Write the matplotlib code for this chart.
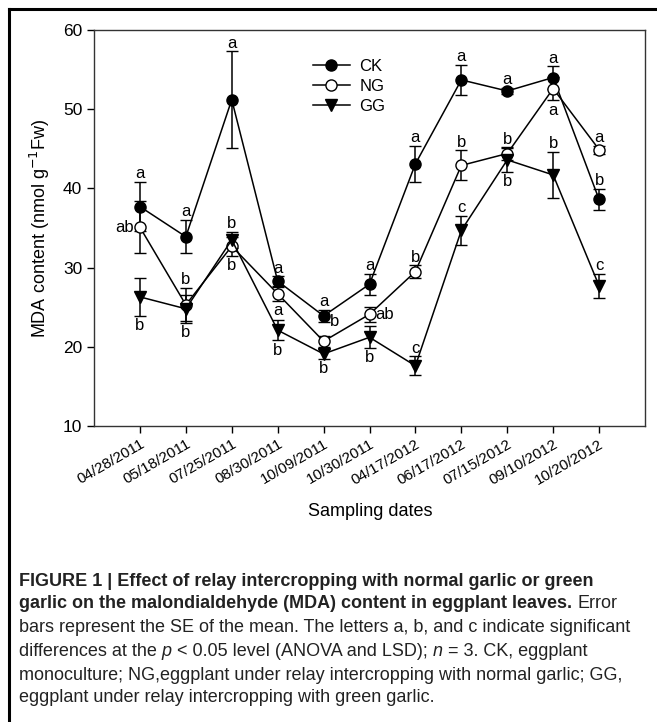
import matplotlib
matplotlib.use("Agg")
import matplotlib.pyplot as plt
from matplotlib.lines import Line2D

plt.rcParams["font.family"] = ["Liberation Sans", "DejaVu Sans"]

dates = ["04/28/2011", "05/18/2011", "07/25/2011", "08/30/2011", "10/09/2011",
         "10/30/2011", "04/17/2012", "06/17/2012", "07/15/2012", "09/10/2012",
         "10/20/2012"]

ck = [37.7, 33.9, 51.2, 28.3, 23.9, 27.9, 43.1, 53.7, 52.3, 54.0, 38.6]
ck_se = [3.1, 2.1, 6.1, 0.6, 0.8, 1.3, 2.3, 1.9, 0.4, 1.4, 1.3]
ck_sig = ["a", "a", "a", "a", "a", "a", "a", "a", "a", "a", "b"]

ng = [35.1, 25.3, 32.7, 26.7, 20.7, 24.1, 29.5, 42.9, 44.4, 52.6, 44.9]
ng_se = [3.3, 2.1, 1.2, 0.9, 0.7, 0.95, 0.8, 1.9, 0.8, 1.5, 0.5]
ng_sig = ["ab", "b", "b", "a", "b", "ab", "b", "b", "b", "a", "a"]

gg = [26.3, 24.8, 33.5, 22.1, 19.1, 21.2, 17.6, 34.7, 43.6, 41.7, 27.7]
gg_se = [2.4, 1.8, 1.0, 1.3, 0.6, 1.4, 1.2, 1.85, 1.5, 2.9, 1.55]
gg_sig = ["b", "b", "b", "b", "b", "b", "c", "c", "b", "b", "c"]

# where each letter goes: "t" over the bar, "u" under it, "l"/"r" beside the marker
ck_pos = ["t"] * 11
ng_pos = ["l", "t", "u", "u", (8, 14), "r", "t", "t", "t", "u", "t"]
gg_pos = ["u", "u", "t", "u", "u", "u", "t", "t", "u", "t", "t"]

W, H = 657, 722
fig = plt.figure(figsize=(W / 100, H / 100), dpi=100)
ax = fig.add_axes([94 / W, 1 - 426 / H, (645 - 94) / W, (426 - 30) / H])

x = list(range(1, len(dates) + 1))
series = [
    (ck, ck_se, ck_sig, ck_pos, "CK", dict(marker="o", mfc="black")),
    (ng, ng_se, ng_sig, ng_pos, "NG", dict(marker="o", mfc="white")),
    (gg, gg_se, gg_sig, gg_pos, "GG", dict(marker="v", mfc="black")),
]

handles = []
for vals, se, sig, pos, name, mk in series:
    ax.errorbar(x, vals, yerr=se, color="black", lw=1.1, elinewidth=1.1,
                capsize=4.5, capthick=1.1, ms=8, mec="black", mew=1.0,
                zorder=3, **mk)
    handles.append(Line2D([], [], color="black", lw=1.1, ms=8, mec="black",
                          **mk))
    for xi, v, e, s, p in zip(x, vals, se, sig, pos):
        kw = dict(textcoords="offset points", fontsize=12, zorder=4)
        if p == "t":
            ax.annotate(s, (xi, v + e), xytext=(0, 0.5), ha="center", va="bottom", **kw)
        elif p == "u":
            ax.annotate(s, (xi, v - e), xytext=(0, -1.5), ha="center", va="top", **kw)
        elif p == "l":
            ax.annotate(s, (xi, v), xytext=(-4, 0), ha="right", va="center", **kw)
        elif p == "r":
            ax.annotate(s, (xi, v), xytext=(4, 0), ha="left", va="center", **kw)
        else:
            ax.annotate(s, (xi, v), xytext=p, ha="center", va="center", **kw)

ax.set_xlim(0, 12)
ax.set_ylim(10, 60)
ax.set_yticks([10, 20, 30, 40, 50, 60])
ax.set_xticks(x)
ax.set_xticklabels(dates, rotation=30, ha="right", rotation_mode="anchor")
ax.tick_params(direction="out", length=5, width=1.0, labelsize=12.5)
ax.tick_params(axis="x", labelsize=11, pad=3)
ax.tick_params(top=False, right=False)
for sp in ax.spines.values():
    sp.set_linewidth(1.0)
    sp.set_color("#333333")

ax.set_ylabel("MDA content (nmol g$^{-1}$Fw)", fontsize=13, labelpad=8)
fig.text(370 / W, 1 - 512 / H, "Sampling dates", ha="center", va="center",
         fontsize=13)

ax.legend(handles, ["CK", "NG", "GG"], loc="upper left",
          bbox_to_anchor=(0.37, 0.965), frameon=False, fontsize=12,
          handlelength=2.2, labelspacing=0.3, handletextpad=0.6)

# outer frame, cut by the page edge on the right and bottom
fig.add_artist(Line2D([9 / W, 1], [1 - 9 / H, 1 - 9 / H], color="black", lw=2.2))
fig.add_artist(Line2D([9 / W, 9 / W], [0, 1 - 9 / H], color="black", lw=2.2))

# caption with mixed bold / italic runs
cap_size = 13
renderer = fig.canvas.get_renderer()


def width(t, **kw):
    tx = fig.text(0, 0, t, fontsize=cap_size, **kw)
    w = tx.get_window_extent(renderer).width
    tx.remove()
    return w


space = width("a a") - width("aa")
caption = [
    [("FIGURE 1 | Effect of relay intercropping with normal garlic or green", "bold", "normal")],
    [("garlic on the malondialdehyde (MDA) content in eggplant leaves.", "bold", "normal"),
     ("Error", "normal", "normal")],
    [("bars represent the SE of the mean. The letters a, b, and c indicate significant", "normal", "normal")],
    [("differences at the", "normal", "normal"), ("p", "normal", "italic"),
     ("< 0.05 level (ANOVA and LSD);", "normal", "normal"), ("n", "normal", "italic"),
     ("= 3. CK, eggplant", "normal", "normal")],
    [("monoculture; NG,eggplant under relay intercropping with normal garlic; GG,", "normal", "normal")],
    [("eggplant under relay intercropping with green garlic.", "normal", "normal")],
]
line_y = [581, 604, 628, 652, 675, 698]
for runs, ly in zip(caption, line_y):
    px = 19
    for t, wt, st in runs:
        tx = fig.text(px / W, 1 - ly / H, t, fontsize=cap_size, fontweight=wt,
                      fontstyle=st, va="center", color="#222222")
        px += tx.get_window_extent(renderer).width + space

fig.savefig("out.png", dpi=100)
